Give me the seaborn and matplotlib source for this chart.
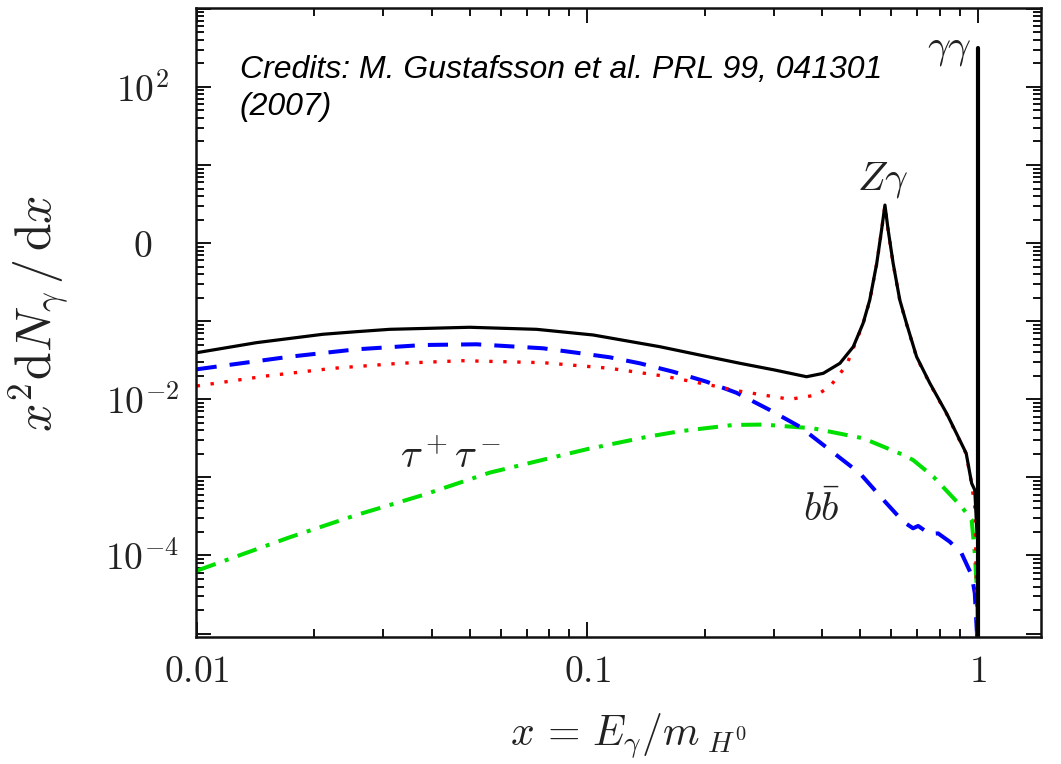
import numpy as np
import pandas as pd
import matplotlib
matplotlib.use("Agg")
import matplotlib.pyplot as plt
import seaborn as sns
from matplotlib.ticker import FixedLocator, FuncFormatter, LogLocator, NullFormatter

# ---------------- data ----------------
total_x = [0.01, 0.01422, 0.02104, 0.02565, 0.03119, 0.05000, 0.07413, 0.1035,
           0.1535, 0.194, 0.2460, 0.302, 0.3641, 0.4018, 0.4433, 0.4797,
           0.5082, 0.5286, 0.5508, 0.5667, 0.5781, 0.5891, 0.6067, 0.6310,
           0.6563, 0.6966, 0.7534, 0.8314, 0.881, 0.9331, 0.9638, 0.9817,
           0.9954, 1.0]
total_y = [0.0395, 0.0531, 0.0680, 0.0734, 0.0787, 0.0836, 0.0787, 0.0666,
           0.0471, 0.0369, 0.0289, 0.0237, 0.01945, 0.0215, 0.0289, 0.0471,
           0.0940, 0.1868, 0.551, 1.472, 3.07, 1.472, 0.551, 0.1868,
           0.0940, 0.0351, 0.01603, 0.00662, 0.00367, 0.00204, 0.00084, 0.00069,
           0.000174, 0.00015]

other_x = [0.01, 0.01507, 0.02234, 0.03311, 0.04810, 0.07703, 0.1142, 0.1565,
           0.2060, 0.2410, 0.3302, 0.3865, 0.4178, 0.4612, 0.4797, 0.5082,
           0.5286, 0.5508, 0.5667, 0.5781, 0.5891, 0.6067, 0.6310, 0.6563,
           0.6966, 0.7534, 0.8314, 0.881, 0.9331, 0.9638, 0.983, 0.988,
           0.993, 0.995]
other_y = [0.01480, 0.01988, 0.02494, 0.02891, 0.03120, 0.02943, 0.02494, 0.01988,
           0.01524, 0.01289, 0.01000, 0.01135, 0.01449, 0.02748, 0.045, 0.092,
           0.184, 0.545, 1.46, 3.0, 1.46, 0.545, 0.184, 0.092,
           0.0345, 0.0158, 0.0065, 0.0036, 0.0020, 0.00082, 0.0004, 0.0001,
           2.0e-5, 9.0e-6]

bb_x = [0.01, 0.01730, 0.02565, 0.03802, 0.05203, 0.07703, 0.09376, 0.1142,
        0.1362, 0.1659, 0.2019, 0.2410, 0.2931, 0.3499, 0.4178, 0.4986,
        0.5834, 0.6442, 0.6823, 0.7031, 0.7534, 0.7907, 0.8472, 0.9078,
        0.9638, 0.9817, 0.9954]
bb_y = [0.02421, 0.03510, 0.04365, 0.04955, 0.05062, 0.04498, 0.03950, 0.03449,
        0.02891, 0.02255, 0.01680, 0.01211, 0.00730, 0.00446, 0.002244, 0.001129,
        0.000466, 0.000271, 0.000223, 0.000239, 0.000188, 0.000192, 0.000150, 0.000107,
        5.6e-5, 3.3e-5, 9.1e-6]

tau_x = [0.01, 0.01730, 0.02565, 0.03802, 0.05623, 0.09954, 0.1419, 0.1726,
         0.2362, 0.2818, 0.3784, 0.5082, 0.6442, 0.6823, 0.7691, 0.9078,
         0.9638, 0.9817, 0.9954, 1.0]
tau_y = [6.38e-5, 1.71e-4, 3.30e-4, 5.96e-4, 1.15e-3, 2.29e-3, 3.3e-3, 3.9e-3,
         4.69e-3, 4.75e-3, 4.25e-3, 3.17e-3, 1.94e-3, 1.67e-3, 1.02e-3, 4.22e-4,
         2.85e-4, 1.07e-4, 3.3e-5, 9.0e-6]

gg_x = [1.0, 1.0]
gg_y = [9.0e-6, 312.0]

x_ticks = [0.01, 0.1, 1.0]
x_ticklabels = ["$0.01$", "$0.1$", "$1$"]
y_major = [1e-5, 1e-4, 1e-3, 1e-2, 1e-1, 1e0, 1e1, 1e2, 1e3]
y_ticklabels = {1e2: "$10^{2}$", 1e0: "$0$", 1e-2: "$10^{-2}$", 1e-4: "$10^{-4}$"}

# ---------------- style ----------------
sns.set_theme(style="ticks")
plt.rcParams["mathtext.fontset"] = "cm"
plt.rcParams["font.family"] = ["DejaVu Serif"]
plt.rcParams["axes.linewidth"] = 1.8
plt.rcParams["axes.edgecolor"] = "#111111"

fig = plt.figure(figsize=(10.61, 7.64), dpi=100)
fig.patch.set_facecolor("white")
ax = fig.add_axes([0.1852, 0.1662, 0.7959, 0.8233])
ax.set_facecolor("white")
ax.set_xscale("log")
ax.set_yscale("log")

series = [
    (tau_x, tau_y, "#00e000", 2.9, (5, 2.4, 1, 2.4)),
    (bb_x, bb_y, "#0000ff", 2.9, (5, 3.25)),
    (other_x, other_y, "#ff0000", 2.4, (1, 3.2)),
    (total_x, total_y, "black", 2.3, None),
    (gg_x, gg_y, "black", 3.0, None),
]
for xs, ys, col, lw, dashes in series:
    df = pd.DataFrame({"x": xs, "y": ys})
    sns.lineplot(data=df, x="x", y="y", ax=ax, estimator=None, sort=False,
                 color=col, linewidth=lw, legend=False)
    line = ax.lines[-1]
    line.set_solid_joinstyle("round")
    if dashes is not None:
        line.set_dashes(dashes)
        line.set_dash_capstyle("butt")

ax.set_xlim(0.00999, 1.45)
ax.set_ylim(9.04e-6, 1023)

ax.xaxis.set_major_locator(FixedLocator(x_ticks))
ax.xaxis.set_major_formatter(FuncFormatter(
    lambda v, p: dict(zip(x_ticks, x_ticklabels)).get(v, "")))
ax.xaxis.set_minor_locator(LogLocator(base=10, subs=np.arange(2, 10) * 1.0, numticks=30))
ax.xaxis.set_minor_formatter(NullFormatter())

ax.yaxis.set_major_locator(FixedLocator(y_major))
def yfmt(v, p):
    for k, s in y_ticklabels.items():
        if abs(np.log10(v) - np.log10(k)) < 1e-6:
            return s
    return ""
ax.yaxis.set_major_formatter(FuncFormatter(yfmt))
ax.yaxis.set_minor_locator(LogLocator(base=10, subs=np.arange(2, 10) * 1.0, numticks=30))
ax.yaxis.set_minor_formatter(NullFormatter())

ax.tick_params(which="both", direction="in", top=True, right=True,
               color="#111111", width=1.4)
ax.tick_params(which="major", length=11)
ax.tick_params(which="minor", length=5.5)
ax.tick_params(axis="x", which="major", labelsize=27, pad=12, labelcolor="#222222")
ax.tick_params(axis="y", which="major", labelsize=27, pad=39, labelcolor="#222222")
for lab in ax.get_yticklabels():
    lab.set_horizontalalignment("center")

ax.set_xlabel(r"$x\, =\, E_\gamma/m_{\ H^0}$", fontsize=30, color="#222222")
ax.xaxis.set_label_coords(0.511, -0.118)
ax.set_ylabel(r"$x^2\mathrm{d}N_\gamma\,/\,\mathrm{d}x$", fontsize=36, color="#222222")
ax.yaxis.set_label_coords(-0.149, 0.515)

for s in ax.spines.values():
    s.set_visible(True)

# annotations
ax.text(0.0514, 0.888, "Credits: M. Gustafsson et al. PRL 99, 041301",
        transform=ax.transAxes, fontsize=23, style="italic",
        family=["Liberation Sans", "DejaVu Sans"], color="black", va="baseline", ha="left")
ax.text(0.0514, 0.830, "(2007)", transform=ax.transAxes, fontsize=23, style="italic",
        family=["Liberation Sans", "DejaVu Sans"], color="black", va="baseline", ha="left")
ax.text(0.812, 0.711, r"$Z\gamma$", transform=ax.transAxes, fontsize=29,
        ha="center", va="baseline", color="#222222")
ax.text(0.892, 0.922, r"$\gamma\gamma$", transform=ax.transAxes, fontsize=29,
        ha="center", va="baseline", color="#222222")
ax.text(0.3006, 0.2687, r"$\tau^+\tau^-$", transform=ax.transAxes, fontsize=29,
        ha="center", va="baseline", color="#222222")
ax.text(0.7408, 0.1844, r"$b\bar{b}$", transform=ax.transAxes, fontsize=29,
        ha="center", va="baseline", color="#222222")

fig.savefig("out.png", dpi=100, facecolor="white")
